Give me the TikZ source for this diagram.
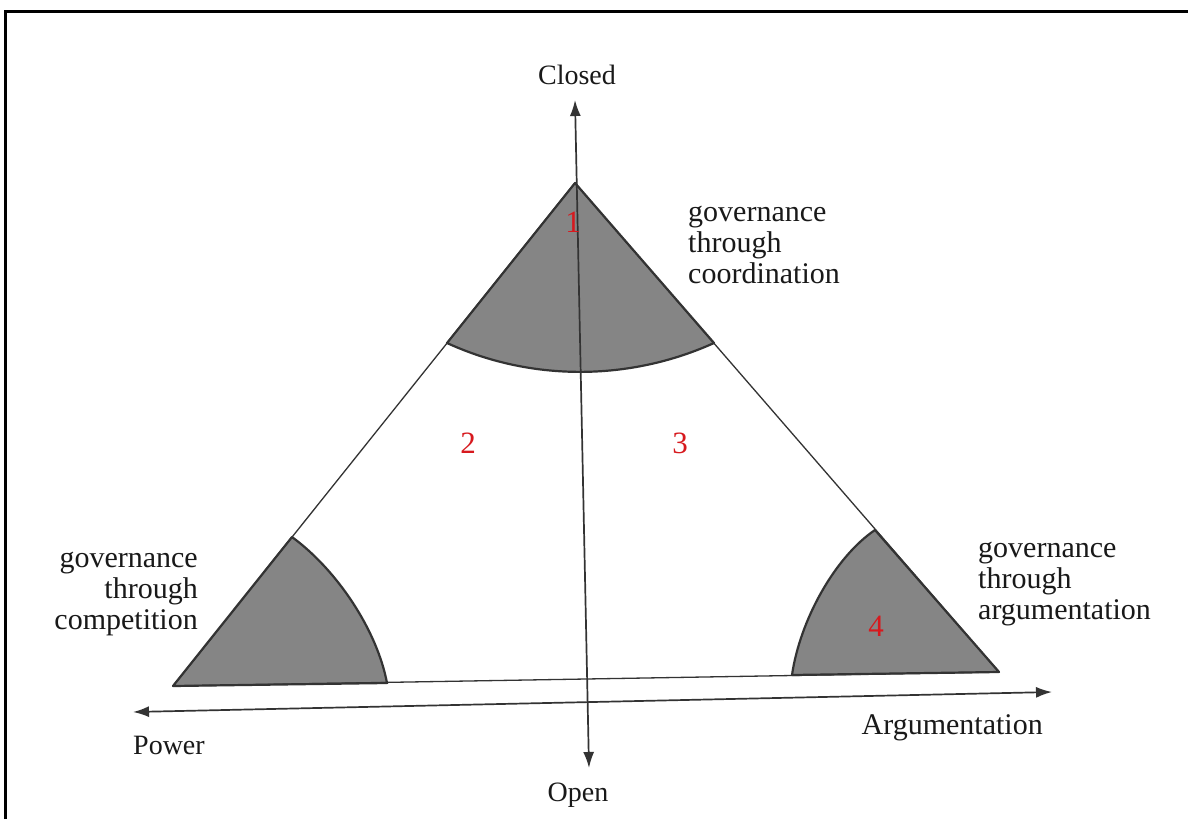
\documentclass[tikz,border=0pt]{standalone}
\usepackage{fontspec}
\setmainfont{Liberation Serif}
\usetikzlibrary{arrows.meta,calc}
\definecolor{numred}{RGB}{215,25,30}
\begin{document}
\begin{tikzpicture}[x=1pt,y=-1pt,
  lbl/.style={font=\fontsize{30}{31}\selectfont, text=black!90, inner sep=0pt},
  axlbl/.style={font=\fontsize{28}{30}\selectfont, text=black!90, inner sep=0pt},
  num/.style={font=\fontsize{31}{32}\selectfont, text=numred, inner sep=0pt},
  sector/.style={fill=black!48, draw=black!80, line width=2.2pt, line join=round},
  edge/.style={draw=black!80, line width=1.3pt, line join=round},
  axis/.style={draw=black!80, line width=1.7pt, {Latex[length=16pt,width=11pt]}-{Latex[length=16pt,width=11pt]}},
]
\useasboundingbox (0,0) rectangle (1188,819);
\fill[white] (0,0) rectangle (1188,819);
\draw[line width=3pt] (5,819) -- (5,11) -- (1188,11);

\coordinate (A) at (575,183);
\coordinate (L) at (173,686);
\coordinate (R) at (999,672);

% shaded sectors
\filldraw[sector] (A) -- (447,343) .. controls (532,382) and (630,381) .. (714,343) -- cycle;
\filldraw[sector] (L) -- (292,537) .. controls (337,570) and (377,630) .. (387,683) -- cycle;
\filldraw[sector] (R) -- (875,530) .. controls (835,557) and (800,620) .. (792,675) -- cycle;

% axes
\coordinate (Vt) at (575,100);
\coordinate (Vb) at (589,768);
\coordinate (Hl) at (133,712);
\coordinate (Hr) at (1052,692);
\draw[axis] (Vb) -- (Vt);
\draw[axis] (Hl) -- (Hr);

% triangle
\draw[edge] (A) -- (L) -- (R) -- cycle;

% axis labels
\node[axlbl] (closed) at (577,75) {Closed};
\node[axlbl] (open) at (578,795) {Open};
\node[axlbl, anchor=west] (power) at (133,745) {Power};
\node[lbl, anchor=east] (argu) at (1043,728) {Argumentation};

% governance labels
\node[lbl, align=left, anchor=north west] (coord) at (688,206) {governance\\through\\coordination};
\node[lbl, align=right, anchor=north east] (comp) at (198,552) {governance\\through\\competition};
\node[lbl, align=left, anchor=north west] (argt) at (978,542) {governance\\through\\argumentation};

% numbers
\node[num] (n1) at (573,222) {1};
\node[num] (n2) at (468,443) {2};
\node[num] (n3) at (680,443) {3};
\node[num] (n4) at (876,626) {4};
\end{tikzpicture}
\end{document}
